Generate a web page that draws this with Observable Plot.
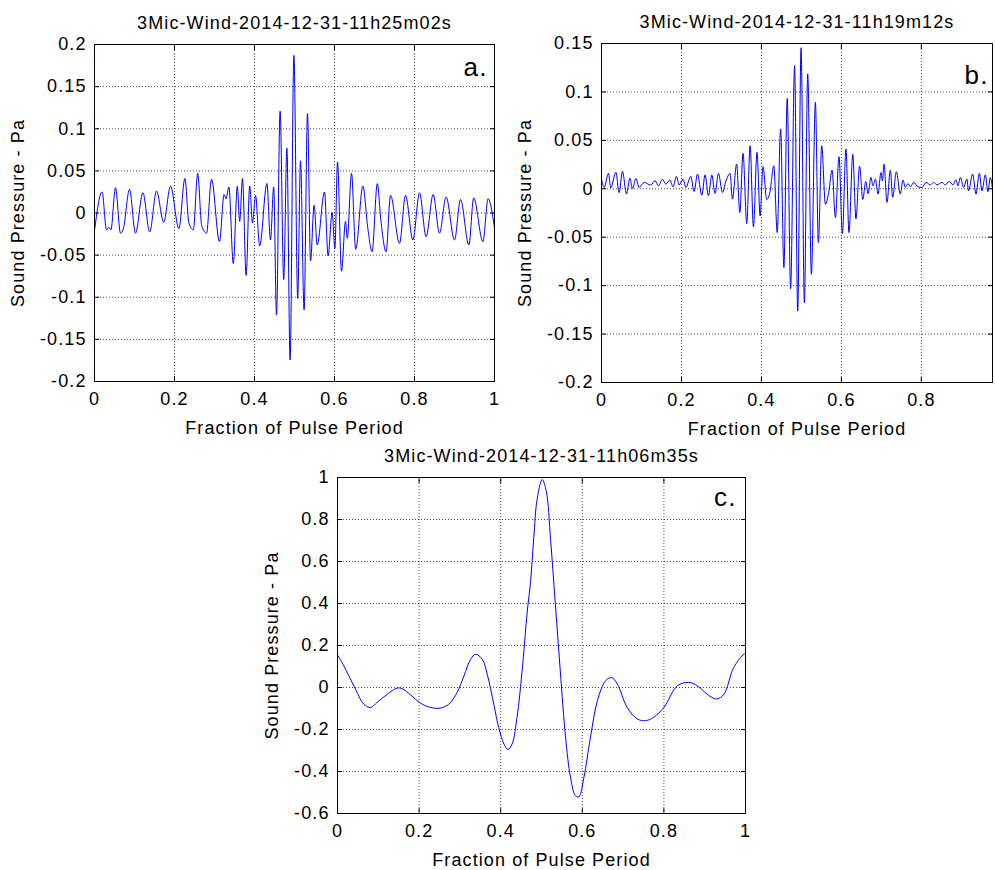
<!DOCTYPE html>
<html><head><meta charset="utf-8">
<script src="https://cdn.jsdelivr.net/npm/d3@7"></script>
<script src="https://cdn.jsdelivr.net/npm/@observablehq/plot@0.6"></script>
<style>
html,body{margin:0;padding:0;background:#fff;}
#fig{position:relative;width:995px;height:870px;overflow:hidden;background:#fff;}
#fig svg{position:absolute;overflow:visible;}
</style></head><body><div id="fig"></div>
<script>
// ---- text ----
const titleA = "3Mic-Wind-2014-12-31-11h25m02s";
const titleB = "3Mic-Wind-2014-12-31-11h19m12s";
const titleC = "3Mic-Wind-2014-12-31-11h06m35s";
const xLabel = "Fraction of Pulse Period";
const yLabel = "Sound Pressure - Pa";
const tags = ["a.", "b.", "c."];

// ---- ticks ----
const xTicksA = [0, 0.2, 0.4, 0.6, 0.8, 1];
const yTicksA = [-0.2, -0.15, -0.1, -0.05, 0, 0.05, 0.1, 0.15, 0.2];
const xTicksB = [0, 0.2, 0.4, 0.6, 0.8];
const yTicksB = [-0.2, -0.15, -0.1, -0.05, 0, 0.05, 0.1, 0.15];
const xTicksC = [0, 0.2, 0.4, 0.6, 0.8, 1];
const yTicksC = [-0.6, -0.4, -0.2, 0, 0.2, 0.4, 0.6, 0.8, 1];

// ---- series (fraction of pulse period, Pa) ----
const waveA = [
  [0,-0.021],[0.019,0.025],[0.030,-0.020],[0.036,-0.017],[0.041,-0.020],[0.0525,0.030],
  [0.065,-0.024],[0.072,-0.019],[0.0875,0.028],[0.1025,-0.024],[0.121,0.024],[0.138,-0.0225],
  [0.155,0.026],[0.173,-0.011],[0.19,0.032],[0.211,-0.0185],[0.226,0.041],[0.236,-0.012],
  [0.247,-0.020],[0.258,0.047],[0.268,-0.015],[0.28,-0.024],[0.2925,0.040],[0.3125,-0.034],
  [0.324,0.022],[0.329,0.017],[0.336,0.031],[0.347,-0.060],[0.357,0.032],[0.363,-0.010],
  [0.37,0.041],[0.379,-0.074],[0.388,0.032],[0.395,-0.012],[0.4025,0.021],[0.413,-0.039],
  [0.431,0.035],[0.44,-0.032],[0.448,0.031],[0.455,-0.121],[0.464,0.121],[0.473,-0.079],
  [0.481,0.077],[0.489,-0.1745],[0.4985,0.187],[0.508,-0.1015],[0.515,0.062],[0.524,-0.115],
  [0.5325,0.118],[0.54,-0.057],[0.549,0.009],[0.5567,-0.038],[0.575,0.025],[0.584,-0.051],
  [0.594,0.001],[0.601,-0.042],[0.6075,0.0605],[0.6175,-0.069],[0.6275,-0.010],[0.632,-0.030],
  [0.6425,0.047],[0.653,-0.043],[0.671,0.032],[0.683,-0.017],[0.694,-0.046],[0.707,0.035],
  [0.716,-0.009],[0.729,-0.046],[0.74,0.021],[0.7625,-0.036],[0.7775,0.021],[0.796,-0.032],
  [0.8125,0.024],[0.829,-0.028],[0.8467,0.022],[0.8625,-0.024],[0.879,0.019],[0.9,-0.032],
  [0.915,0.016],[0.936,-0.038],[0.948,0.018],[0.971,-0.034],[0.984,0.017],[1,-0.018]
];
const waveB = [
  [0,0.010],[0.0067,0.0014],[0.0175,0.016],[0.023,0.001],[0.036,0.017],[0.044,-0.004],
  [0.0525,0.018],[0.0625,-0.0055],[0.071,0.011],[0.0775,0.0],[0.086,0.0107],[0.094,0.0014],
  [0.107,0.0066],[0.123,0.0038],[0.134,0.0083],[0.1425,0.003],[0.1525,0.0097],[0.161,0.0048],
  [0.171,0.009],[0.179,0.002],[0.1875,0.0128],[0.194,0.004],[0.204,0.010],[0.211,0.0014],
  [0.2233,0.0128],[0.2317,-0.0028],[0.24,0.0152],[0.251,-0.0066],[0.259,0.0145],[0.2675,-0.0072],
  [0.276,0.0141],[0.284,-0.0048],[0.2925,0.0159],[0.3025,-0.0038],[0.311,0.0076],[0.3217,0.0159],
  [0.3275,-0.0107],[0.338,0.0255],[0.346,-0.0245],[0.354,0.0366],[0.3633,-0.0359],[0.3717,0.0445],
  [0.38,-0.0393],[0.389,0.0376],[0.3967,-0.028],[0.404,0.0228],[0.4133,-0.0112],[0.4217,-0.0025],
  [0.431,0.0238],[0.4395,-0.0452],[0.448,0.0618],[0.4562,-0.0814],[0.4645,0.0933],[0.473,-0.1033],
  [0.483,0.1273],[0.4908,-0.1263],[0.4992,0.1456],[0.5075,-0.1176],[0.5158,0.1187],[0.525,-0.0883],
  [0.535,0.0894],[0.5425,-0.0555],[0.5508,0.0445],[0.56,-0.0159],[0.5683,-0.004],[0.5767,0.0193],
  [0.585,-0.0297],[0.594,0.0331],[0.6025,-0.0462],[0.6115,0.041],[0.619,-0.0452],[0.6285,0.0355],
  [0.6365,-0.031],[0.6455,0.0235],[0.6535,-0.011],[0.661,0.0075],[0.6667,-0.005],[0.674,0.0117],
  [0.679,0.003],[0.685,0.010],[0.6917,-0.0055],[0.699,0.0169],[0.7025,0.008],[0.7067,0.0255],
  [0.714,-0.014],[0.7225,0.0193],[0.7283,-0.009],[0.7375,0.0176],[0.7475,-0.0055],[0.754,0.009],
  [0.76,0.0014],[0.7667,0.0055],[0.7725,0.002],[0.781,0.0066],[0.7917,0.002],[0.8017,0.0014],
  [0.8117,0.0066],[0.8225,0.004],[0.831,0.0066],[0.839,0.004],[0.8517,0.0066],[0.86,0.004],
  [0.87,0.0076],[0.879,0.004],[0.8867,0.0093],[0.8917,0.003],[0.8975,0.0117],[0.906,0.0014],
  [0.914,0.010],[0.918,-0.002],[0.9283,0.0152],[0.9367,-0.0055],[0.945,0.0159],[0.9517,-0.002],
  [0.96,0.0145],[0.9667,-0.003],[0.9725,0.0117],[0.978,0.0]
];
const waveC = [
  [0,0.155],[0.0155,0.103],[0.04,0.008],[0.0645,-0.079],[0.081,-0.095],[0.097,-0.071],
  [0.122,-0.032],[0.146,-0.003],[0.158,-0.005],[0.179,-0.035],[0.203,-0.074],[0.228,-0.095],
  [0.2525,-0.098],[0.273,-0.079],[0.293,-0.024],[0.31,0.055],[0.326,0.134],[0.338,0.158],
  [0.355,0.134],[0.367,0.063],[0.383,-0.079],[0.395,-0.19],[0.408,-0.269],[0.418,-0.295],
  [0.428,-0.269],[0.44,-0.142],[0.4525,0.079],[0.465,0.36],[0.473,0.5],[0.481,0.711],
  [0.4895,0.9],[0.5017,0.99],[0.512,0.932],[0.522,0.711],[0.534,0.395],[0.546,0.079],
  [0.559,-0.237],[0.571,-0.427],[0.583,-0.515],[0.5915,-0.521],[0.604,-0.427],[0.62,-0.237],
  [0.637,-0.063],[0.657,0.032],[0.672,0.047],[0.686,0.016],[0.71,-0.095],[0.735,-0.15],
  [0.755,-0.158],[0.775,-0.142],[0.8,-0.095],[0.833,0.008],[0.861,0.024],[0.882,0.008],
  [0.906,-0.032],[0.929,-0.055],[0.947,-0.032],[0.971,0.095],[0.996,0.158],[1,0.16]
];

function panel(o) {
  const data = o.wave.map(([x, y]) => ({x, y}));
  const fmt = d => String(Math.round(d * 100) / 100);
  const grid = {stroke: "#000", strokeOpacity: 0.7, strokeDasharray: "1,2", strokeWidth: 1};
  const blank = () => "";
  const svg = Plot.plot({
    width: o.width, height: o.height,
    marginLeft: o.ml, marginRight: o.mr, marginTop: o.mt, marginBottom: o.mb,
    x: {domain: o.xDomain, label: null},
    y: {domain: o.yDomain, label: null},
    style: {fontFamily: "'Liberation Sans', Arial, sans-serif", fontSize: "18px",
            letterSpacing: "1.1px", background: "transparent", overflow: "visible", color: "#000"},
    marks: [
      Plot.gridX({ticks: o.xTicks, ...grid}),
      Plot.gridY({ticks: o.yTicks, ...grid}),
      Plot.line(data, {x: "x", y: "y", stroke: "#0000ff", strokeWidth: 1, curve: o.curve}),
      Plot.frame({stroke: "#000", strokeWidth: 1}),
      Plot.axisX({ticks: o.xTicks, anchor: "bottom", tickSize: 5, dy: -5, tickFormat: blank, label: null}),
      Plot.axisX({ticks: o.xTicks, anchor: "top", tickSize: 5, dy: 5, tickFormat: blank, label: null}),
      Plot.axisY({ticks: o.yTicks, anchor: "left", tickSize: 5, dx: 5, tickFormat: blank, label: null}),
      Plot.axisY({ticks: o.yTicks, anchor: "right", tickSize: 5, dx: -5, tickFormat: blank, label: null}),
      Plot.axisX({ticks: o.xTicks, anchor: "bottom", tickSize: 0, tickPadding: 11, tickFormat: fmt, label: null}),
      Plot.axisY({ticks: o.yTicks, anchor: "left", tickSize: 0, tickPadding: 8, tickFormat: fmt, label: null}),
      Plot.text([o.title], {text: d => d, frameAnchor: "top", dy: -28}),
      Plot.text([xLabel], {text: d => d, frameAnchor: "bottom", dy: 52}),
      Plot.text([yLabel], {text: d => d, frameAnchor: "left", textAnchor: "middle", rotate: -90, dx: o.labelDx}),
      Plot.text([o.tag], {text: d => d, frameAnchor: "top-right", textAnchor: "end", dx: o.tagDx, dy: o.tagDy, fontSize: 26})
    ]
  });
  svg.style.left = o.left + "px";
  svg.style.top = o.top + "px";
  return svg;
}

const fig = document.getElementById("fig");
fig.appendChild(panel({wave: waveA, xDomain: [0, 1], yDomain: [-0.2, 0.2], xTicks: xTicksA, yTicks: yTicksA,
  title: titleA, tag: tags[0], curve: "monotone-x",
  left: 0, top: 0, width: 500, height: 445, ml: 94, mr: 6, mt: 44, mb: 64, labelDx: -76, tagDx: -7, tagDy: 13}));
fig.appendChild(panel({wave: waveB, xDomain: [0, 0.978], yDomain: [-0.2, 0.15], xTicks: xTicksB, yTicks: yTicksB,
  title: titleB, tag: tags[1], curve: "monotone-x",
  left: 505, top: 0, width: 490, height: 445, ml: 96, mr: 3, mt: 43, mb: 63, labelDx: -76, tagDx: -4, tagDy: 22}));
fig.appendChild(panel({wave: waveC, xDomain: [0, 1], yDomain: [-0.6, 1], xTicks: xTicksC, yTicks: yTicksC,
  title: titleC, tag: tags[2], curve: "catmull-rom",
  left: 250, top: 435, width: 500, height: 435, ml: 87, mr: 5, mt: 42, mb: 57, labelDx: -65, tagDx: -9, tagDy: 10}));
</script>
</body></html>
